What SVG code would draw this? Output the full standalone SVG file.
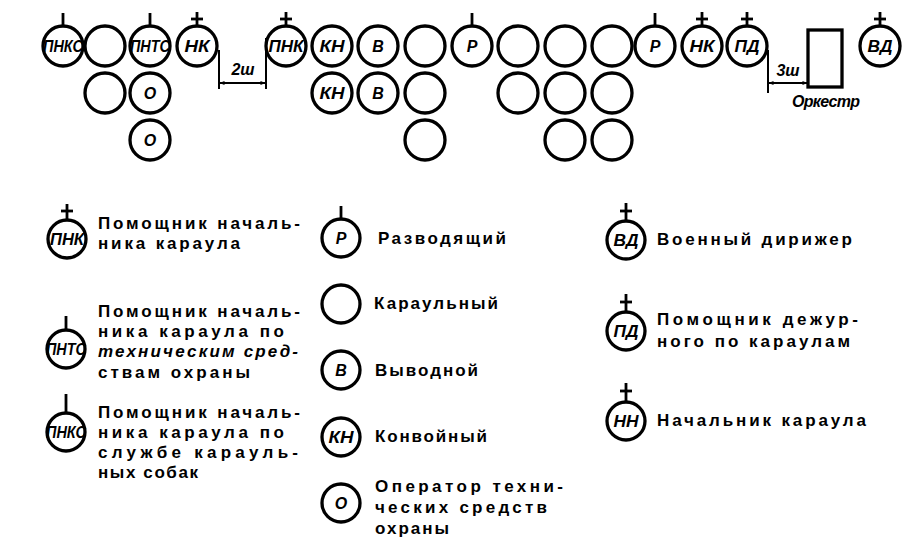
<svg xmlns="http://www.w3.org/2000/svg" width="922" height="548" viewBox="0 0 922 548">
<style>
.c{fill:none;stroke:#000;stroke-width:3.3}
.m{stroke:#000;stroke-width:2.8;fill:none}
.l{font-family:"Liberation Sans",Arial,sans-serif;font-weight:bold;font-style:italic;font-size:16px;text-anchor:middle;fill:#000}
.t{font-family:"Liberation Sans",Arial,sans-serif;font-weight:bold;font-size:17px;fill:#000}
.d{stroke:#000;stroke-width:2;fill:none}
</style>
<defs>
<marker id="ah" viewBox="0 0 10 10" refX="9" refY="5" markerWidth="8" markerHeight="5" orient="auto-start-reverse" markerUnits="userSpaceOnUse">
<path d="M0,1 L10,5 L0,9 Z" fill="#000"/>
</marker>
</defs>
<rect width="922" height="548" fill="#fff"/>

<!-- top formation row 1 -->
<g id="r1-pnks"><circle class="c" cx="63" cy="46" r="20"/><line class="m" x1="63" y1="13" x2="63" y2="26"/><text class="l" x="63" y="52" textLength="40" lengthAdjust="spacingAndGlyphs">ПНКС</text></g>
<g id="r1-k1"><circle class="c" cx="105" cy="46" r="20"/></g>
<g id="r1-pnts"><circle class="c" cx="150" cy="46" r="20"/><line class="m" x1="150" y1="13" x2="150" y2="26"/><text class="l" x="150" y="52" textLength="40" lengthAdjust="spacingAndGlyphs">ПНТС</text></g>
<g id="r1-nk"><circle class="c" cx="197" cy="46" r="20"/><line class="m" x1="197" y1="12" x2="197" y2="26"/><line class="m" x1="191" y1="19" x2="203" y2="19"/><text class="l" x="197" y="52" textLength="25" lengthAdjust="spacingAndGlyphs">НК</text></g>
<g id="r1-pnk"><circle class="c" cx="286" cy="46" r="20"/><line class="m" x1="286" y1="12" x2="286" y2="26"/><line class="m" x1="280" y1="19" x2="292" y2="19"/><text class="l" x="286" y="52" textLength="35" lengthAdjust="spacingAndGlyphs">ПНК</text></g>
<g id="r1-kn"><circle class="c" cx="332" cy="46" r="20"/><text class="l" x="332" y="52" textLength="25" lengthAdjust="spacingAndGlyphs">КН</text></g>
<g id="r1-v"><circle class="c" cx="378" cy="46" r="20"/><text class="l" x="378" y="52">В</text></g>
<g id="r1-k2"><circle class="c" cx="425" cy="46" r="20"/></g>
<g id="r1-r1"><circle class="c" cx="472" cy="46" r="20"/><line class="m" x1="472" y1="13" x2="472" y2="26"/><text class="l" x="472" y="52">Р</text></g>
<g id="r1-k3"><circle class="c" cx="518" cy="46" r="20"/></g>
<g id="r1-k4"><circle class="c" cx="565" cy="46" r="20"/></g>
<g id="r1-k5"><circle class="c" cx="612" cy="46" r="20"/></g>
<g id="r1-r2"><circle class="c" cx="655" cy="46" r="20"/><line class="m" x1="655" y1="13" x2="655" y2="26"/><text class="l" x="655" y="52">Р</text></g>
<g id="r1-nk2"><circle class="c" cx="702" cy="46" r="20"/><line class="m" x1="702" y1="12" x2="702" y2="26"/><line class="m" x1="696" y1="19" x2="708" y2="19"/><text class="l" x="702" y="52" textLength="25" lengthAdjust="spacingAndGlyphs">НК</text></g>
<g id="r1-pd"><circle class="c" cx="747" cy="46" r="20"/><line class="m" x1="747" y1="12" x2="747" y2="26"/><line class="m" x1="741" y1="19" x2="753" y2="19"/><text class="l" x="747" y="52" textLength="25" lengthAdjust="spacingAndGlyphs">ПД</text></g>
<g id="orchestra"><rect x="808" y="30" width="34" height="57" fill="none" stroke="#000" stroke-width="3.3"/><text class="l" x="826" y="107" font-size="14" textLength="68" lengthAdjust="spacing">Оркестр</text></g>
<g id="r1-vd"><circle class="c" cx="880" cy="46" r="20"/><line class="m" x1="880" y1="12" x2="880" y2="26"/><line class="m" x1="874" y1="19" x2="886" y2="19"/><text class="l" x="880" y="52" textLength="25" lengthAdjust="spacingAndGlyphs">ВД</text></g>

<!-- row 2 -->
<g id="r2-k1"><circle class="c" cx="105" cy="93" r="20"/></g>
<g id="r2-o"><circle class="c" cx="150" cy="93" r="20"/><text class="l" x="150" y="99">О</text></g>
<g id="r2-kn"><circle class="c" cx="332" cy="93" r="20"/><text class="l" x="332" y="99" textLength="25" lengthAdjust="spacingAndGlyphs">КН</text></g>
<g id="r2-v"><circle class="c" cx="378" cy="93" r="20"/><text class="l" x="378" y="99">В</text></g>
<g id="r2-k2"><circle class="c" cx="425" cy="93" r="20"/></g>
<g id="r2-k3"><circle class="c" cx="518" cy="93" r="20"/></g>
<g id="r2-k4"><circle class="c" cx="565" cy="93" r="20"/></g>
<g id="r2-k5"><circle class="c" cx="612" cy="93" r="20"/></g>

<!-- row 3 -->
<g id="r3-o"><circle class="c" cx="150" cy="140" r="20"/><text class="l" x="150" y="146">О</text></g>
<g id="r3-k2"><circle class="c" cx="425" cy="140" r="20"/></g>
<g id="r3-k4"><circle class="c" cx="565" cy="140" r="20"/></g>
<g id="r3-k5"><circle class="c" cx="612" cy="140" r="20"/></g>

<!-- dimension connectors -->
<g id="connectors">
<line class="d" x1="219" y1="50" x2="219" y2="89"/>
<line class="d" x1="266" y1="38" x2="266" y2="89"/>
<line class="d" x1="220" y1="83" x2="265" y2="83" marker-start="url(#ah)" marker-end="url(#ah)"/>
<text class="l" x="243" y="75">2ш</text>
<line class="d" x1="768" y1="50" x2="768" y2="93"/>
<line class="d" x1="769" y1="83" x2="807" y2="83" marker-start="url(#ah)" marker-end="url(#ah)"/>
<text class="l" x="788" y="76">3ш</text>
</g>

<!-- legend left column -->
<g id="lg-pnk"><circle class="c" cx="67" cy="239" r="19"/><line class="m" x1="67" y1="204" x2="67" y2="220"/><line class="m" x1="61" y1="211" x2="73" y2="211"/><text class="l" x="67" y="245" font-size="15" textLength="34" lengthAdjust="spacingAndGlyphs">ПНК</text>
<text class="t" x="98" y="229" textLength="202" lengthAdjust="spacing">Помощник началь-</text>
<text class="t" x="98" y="249" textLength="142" lengthAdjust="spacing">ника караула</text></g>

<g id="lg-pnts"><circle class="c" cx="66" cy="349" r="19"/><line class="m" x1="66" y1="316" x2="66" y2="330"/><text class="l" x="66" y="355" font-size="15" textLength="40" lengthAdjust="spacingAndGlyphs">ПНТС</text>
<text class="t" x="98" y="317" textLength="202" lengthAdjust="spacing">Помощник началь-</text>
<text class="t" x="98" y="337" textLength="186" lengthAdjust="spacing">ника караула по</text>
<text class="t" x="98" y="357" textLength="200" lengthAdjust="spacing" font-style="italic">техническим сред-</text>
<text class="t" x="98" y="378" textLength="152" lengthAdjust="spacing">ствам охраны</text></g>

<g id="lg-pnks"><circle class="c" cx="66" cy="432" r="19"/><line class="m" x1="66" y1="394" x2="66" y2="413"/><text class="l" x="66" y="438" font-size="15" textLength="40" lengthAdjust="spacingAndGlyphs">ПНКС</text>
<text class="t" x="98" y="418" textLength="202" lengthAdjust="spacing">Помощник началь-</text>
<text class="t" x="98" y="438" textLength="186" lengthAdjust="spacing">ника караула по</text>
<text class="t" x="98" y="458" textLength="200" lengthAdjust="spacing">службе карауль-</text>
<text class="t" x="98" y="478" textLength="100" lengthAdjust="spacing">ных собак</text></g>

<!-- legend middle column -->
<g id="lg-r"><circle class="c" cx="341" cy="238" r="19"/><line class="m" x1="341" y1="206" x2="341" y2="219"/><text class="l" x="341" y="244">Р</text>
<text class="t" x="378" y="244" textLength="128" lengthAdjust="spacing">Разводящий</text></g>
<g id="lg-k"><circle class="c" cx="341" cy="304" r="19"/>
<text class="t" x="374" y="309" textLength="124" lengthAdjust="spacing">Караульный</text></g>
<g id="lg-v"><circle class="c" cx="341" cy="370" r="19"/><text class="l" x="341" y="376">В</text>
<text class="t" x="375" y="376" textLength="103" lengthAdjust="spacing">Выводной</text></g>
<g id="lg-kn"><circle class="c" cx="341" cy="437" r="19"/><text class="l" x="341" y="443" textLength="25" lengthAdjust="spacingAndGlyphs">КН</text>
<text class="t" x="375" y="442" textLength="112" lengthAdjust="spacing">Конвойный</text></g>
<g id="lg-o"><circle class="c" cx="341" cy="503" r="19"/><text class="l" x="341" y="509">О</text>
<text class="t" x="375" y="492" textLength="188" lengthAdjust="spacing">Оператор техни-</text>
<text class="t" x="375" y="513" textLength="172" lengthAdjust="spacing">ческих средств</text>
<text class="t" x="375" y="534" textLength="74" lengthAdjust="spacing">охраны</text></g>

<!-- legend right column -->
<g id="lg-vd"><circle class="c" cx="626" cy="240" r="19"/><line class="m" x1="626" y1="203" x2="626" y2="221"/><line class="m" x1="620" y1="211" x2="632" y2="211"/><text class="l" x="626" y="246" textLength="25" lengthAdjust="spacingAndGlyphs">ВД</text>
<text class="t" x="657" y="245" textLength="195" lengthAdjust="spacing">Военный дирижер</text></g>
<g id="lg-pd"><circle class="c" cx="626" cy="331" r="19"/><line class="m" x1="626" y1="294" x2="626" y2="312"/><line class="m" x1="620" y1="302" x2="632" y2="302"/><text class="l" x="626" y="337" textLength="25" lengthAdjust="spacingAndGlyphs">ПД</text>
<text class="t" x="657" y="325" textLength="201" lengthAdjust="spacing">Помощник дежур-</text>
<text class="t" x="657" y="347" textLength="193" lengthAdjust="spacing">ного по караулам</text></g>
<g id="lg-nn"><circle class="c" cx="626" cy="421" r="19"/><line class="m" x1="626" y1="383" x2="626" y2="402"/><line class="m" x1="620" y1="391" x2="632" y2="391"/><text class="l" x="626" y="427" textLength="25" lengthAdjust="spacingAndGlyphs">НН</text>
<text class="t" x="657" y="426" textLength="209" lengthAdjust="spacing">Начальник караула</text></g>
</svg>
